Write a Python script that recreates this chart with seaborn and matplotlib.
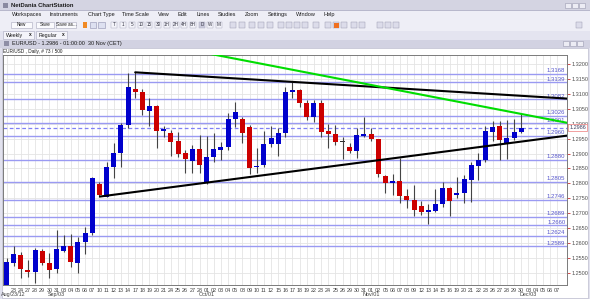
import numpy as np
import pandas as pd
import matplotlib
matplotlib.use("Agg")
import matplotlib.pyplot as plt
import matplotlib.transforms as mtrans
from matplotlib.patches import Rectangle
import seaborn as sns

# ---------------- data ----------------
day_labels = ["22", "23", "24", "27", "28", "29", "30", "31",
              "03", "04", "05", "06", "07", "10", "11", "12", "13", "14", "17", "18", "19", "20", "21",
              "24", "25", "26", "27", "28",
              "01", "02", "03", "04", "05", "08", "09", "10", "11", "12", "15", "16", "17", "18", "19",
              "22", "23", "24", "25", "26", "29", "30", "31",
              "01", "02", "05", "06", "07", "08", "09", "12", "13", "14", "15", "16", "19", "20", "21",
              "22", "23", "26", "27", "28", "29", "30",
              "03", "04", "05", "06", "07"]
month_pos = [1, 7, 28, 51, 73]
month_labels = ["Aug/23/12", "Sep/03", "Oct/01", "Nov/01", "Dec/03"]

opens = [1.2450, 1.2534, 1.2560, 1.2510, 1.2502, 1.2574, 1.2532, 1.2513, 1.2574, 1.2591,
         1.2532, 1.2603, 1.2633, 1.2798, 1.2756, 1.2854, 1.2903, 1.2996, 1.3115, 1.3107,
         1.3044, 1.3059, 1.2976, 1.2968, 1.2942, 1.2901, 1.2876, 1.2914, 1.2802, 1.2887,
         1.2912, 1.2923, 1.3015, 1.3016, 1.2990, 1.2855, 1.2862, 1.2932, 1.2932, 1.2968,
         1.3105, 1.3113, 1.3070, 1.3023, 1.3070, 1.2977, 1.2966, 1.2939, 1.2923, 1.2909,
         1.2959, 1.2965, 1.2948, 1.2825, 1.2800, 1.2808, 1.2758, 1.2744, 1.2724, 1.2705,
         1.2709, 1.2731, 1.2784, 1.2761, 1.2767, 1.2811, 1.2858, 1.2878, 1.2973, 1.2992,
         1.2936, 1.2951, 1.2973]
highs = [1.2549, 1.2591, 1.2571, 1.2543, 1.2583, 1.2580, 1.2566, 1.2644, 1.2627, 1.2629,
         1.2621, 1.2655, 1.2822, 1.2806, 1.2873, 1.2936, 1.3003, 1.3169, 1.3172, 1.3115,
         1.3087, 1.3061, 1.2992, 1.2979, 1.2973, 1.2912, 1.2929, 1.2962, 1.2960, 1.2970,
         1.2940, 1.3037, 1.3074, 1.3023, 1.2995, 1.2920, 1.2975, 1.2992, 1.2985, 1.3122,
         1.3139, 1.3116, 1.3079, 1.3079, 1.3079, 1.2999, 1.2996, 1.2956, 1.2934, 1.2985,
         1.3023, 1.2985, 1.2950, 1.2828, 1.2832, 1.2884, 1.2780, 1.2795, 1.2741, 1.2730,
         1.2780, 1.2804, 1.2787, 1.2822, 1.2828, 1.2873, 1.2901, 1.2992, 1.3009, 1.3009,
         1.3012, 1.3015, 1.3031]
lows = [1.2440, 1.2524, 1.2484, 1.2487, 1.2465, 1.2527, 1.2484, 1.2499, 1.2571, 1.2521,
        1.2499, 1.2562, 1.2627, 1.2756, 1.2755, 1.2817, 1.2856, 1.2985, 1.3085, 1.3028,
        1.2992, 1.2918, 1.2954, 1.2892, 1.2889, 1.2836, 1.2834, 1.2834, 1.2798, 1.2873,
        1.2878, 1.2912, 1.2990, 1.2936, 1.2830, 1.2834, 1.2856, 1.2923, 1.2892, 1.2954,
        1.3085, 1.3055, 1.3012, 1.3007, 1.2954, 1.2918, 1.2929, 1.2881, 1.2901, 1.2884,
        1.2954, 1.2943, 1.2822, 1.2767, 1.2761, 1.2735, 1.2717, 1.2691, 1.2694, 1.2663,
        1.2705, 1.2720, 1.2691, 1.2750, 1.2735, 1.2739, 1.2811, 1.2873, 1.2943, 1.2878,
        1.2881, 1.2945, 1.2968]
closes = [1.2536, 1.2562, 1.2513, 1.2502, 1.2577, 1.2532, 1.2510, 1.2580, 1.2591, 1.2536,
          1.2603, 1.2633, 1.2817, 1.2761, 1.2854, 1.2903, 1.2996, 1.3124, 1.3107, 1.3046,
          1.3059, 1.2976, 1.2981, 1.2940, 1.2898, 1.2881, 1.2914, 1.2862, 1.2889, 1.2914,
          1.2923, 1.3015, 1.3040, 1.2970, 1.2852, 1.2857, 1.2932, 1.2951, 1.2968, 1.3107,
          1.3113, 1.3068, 1.3023, 1.3070, 1.2973, 1.2966, 1.2938, 1.2939, 1.2909, 1.2962,
          1.2965, 1.2948, 1.2832, 1.2800, 1.2808, 1.2758, 1.2744, 1.2711, 1.2705, 1.2711,
          1.2731, 1.2784, 1.2742, 1.2769, 1.2814, 1.2862, 1.2878, 1.2976, 1.2990, 1.2945,
          1.2951, 1.2973, 1.2986]

levels = [1.3168, 1.3139, 1.3082, 1.3026, 1.3001, 1.2960, 1.2880,
          1.2805, 1.2746, 1.2689, 1.2660, 1.2624, 1.2589]
last_price = 1.2986

upper_x = [18, 78.4]
upper_y = [1.3172, 1.3084]
green_x = [28, 78.4]
green_y = [1.3236, 1.3003]
lower_x = [13.08, 78.4]
lower_y = [1.2756, 1.2960]

y_ticks = [1.2500, 1.2550, 1.2600, 1.2650, 1.2700, 1.2750, 1.2800, 1.2850,
           1.2900, 1.2950, 1.3000, 1.3050, 1.3100, 1.3150, 1.3200]

# ---------------- style ----------------
sns.set_style("white")
plt.rcParams['font.family'] = ['Liberation Sans', 'DejaVu Sans']

W, H = 590, 299
fig = plt.figure(figsize=(W / 100, H / 100), dpi=100)
fig.patch.set_facecolor('#E2E2EE')

bg = fig.add_axes([0, 0, 1, 1])
bg.set_xlim(0, W)
bg.set_ylim(H, 0)
bg.axis('off')


def rect(x, y, w, h, fc, ec='none', lw=0.5, z=1):
    bg.add_patch(Rectangle((x, y), w, h, facecolor=fc, edgecolor=ec, lw=lw, zorder=z))


def txt(x, y, s, fs=4.0, **kw):
    kw.setdefault('color', '#1a1a1a')
    bg.text(x, y, s, fontsize=fs, va='center', ha=kw.pop('ha', 'left'), zorder=5, **kw)


# title bar
rect(0, 0, W, 10.5, '#D4D4E2')
rect(0, 9.8, W, 0.8, '#B8B8CC')
rect(2.5, 3, 5, 5, '#8A8AA0')
txt(11, 5.4, "NetDania ChartStation", fs=4.2, fontweight='bold')
for xb in (565, 572, 579):
    rect(xb, 2.5, 6, 5, '#ECECF4', ec='#9A9AB0', lw=0.4, z=2)

# menu bar
rect(0, 10.6, W, 9.4, '#EEEEF6')
menu = [("Workspaces", 12), ("Instruments", 50), ("Chart Type", 87.7), ("Time Scale", 122),
        ("View", 158), ("Edit", 177.7), ("Lines", 196.7), ("Studies", 217.7), ("Zoom", 245),
        ("Settings", 267.7), ("Window", 296), ("Help", 324)]
for s, x in menu:
    txt(x, 14.7, s, fs=4.0)

# toolbar
rect(0, 20, W, 10.5, '#EEEEF6')
for s, x0, w in (("New", 11, 21), ("Save", 36, 18), ("Save as...", 56, 20)):
    rect(x0, 21.6, w, 6.6, '#FAFAFD', ec='#A8A8BC', lw=0.4, z=2)
    txt(x0 + w / 2, 25, s, fs=3.3, ha='center')
rect(83, 22, 4, 6, '#F08A24', z=2)
rect(89.5, 22, 6, 6, '#DDE0F0', ec='#9090B0', lw=0.4, z=2)
rect(98, 22, 7, 6, '#DDE0F0', ec='#9090B0', lw=0.4, z=2)
ts = ["T", "1", "5", "10", "15", "30", "1H", "2H", "4H", "8H", "D", "W", "M"]
tsx = [114, 123, 132, 141, 149, 158, 167, 176, 184, 193, 202, 210, 219]
for s, x in zip(ts, tsx):
    fc = '#C8C8DA' if s == "D" else '#F4F4FA'
    rect(x - 3.4, 21.8, 6.8, 6.4, fc, ec='#B0B0C4', lw=0.35, z=2)
    txt(x, 25, s, fs=3.3, ha='center', color='#303040')
for x in (230, 239, 249, 258, 267, 278, 286, 294, 302, 313, 325, 333, 341, 351, 359, 377, 385, 393, 576):
    rect(x, 22, 6, 6, '#DCDCEA', ec='#9C9CB4', lw=0.35, z=2)
rect(334, 22.5, 5, 5, '#F07020', z=3)

# tabs row
rect(0, 30.5, W, 9, '#E4E4F0')
for s, x0, w in (("Weekly", 3, 31), ("Regular", 36, 31)):
    rect(x0, 31, w, 8, '#F4F4FA', ec='#A8A8BE', lw=0.4, z=2)
    txt(x0 + 3, 35, s, fs=3.8)
    txt(x0 + w - 5, 35, "x", fs=3.5, fontweight='bold')

# inner window title bar
rect(0, 39.5, W, 8.3, '#D2D2E2')
rect(3.5, 41.3, 5, 5, '#8E8EA6', z=2)
txt(12.5, 43.7, "EUR/USD - 1.2986 - 01:00:00  30 Nov (CET)", fs=4.0)
for xb in (563, 570, 577):
    rect(xb, 41, 6, 5, '#ECECF4', ec='#9A9AB0', lw=0.4, z=2)

# chart panel
rect(2, 47.8, 585.5, 250, 'white', ec='#B0B0C4', lw=0.4)
txt(3, 51.4, "EUR/USD , Daily, # 73 / 500", fs=3.4)

# ---------------- chart ----------------
ax = fig.add_axes([3 / W, (H - 285) / H, (567 - 3) / W, (285 - 55) / H])
ax.set_facecolor('white')

n = len(opens)
df = pd.DataFrame({"idx": np.arange(n), "open": opens, "high": highs, "low": lows, "close": closes})
df["bottom"] = df[["open", "close"]].min(axis=1)
df["height"] = (df["close"] - df["open"]).abs().clip(lower=0.00025)
df["color"] = np.where(df["close"] > df["open"], '#0000CC',
                       np.where(df["close"] < df["open"], '#CC0000', '#303030'))

# horizontal levels
for lv in levels:
    ax.axhline(lv, color='#9A9AF2', lw=1.0, zorder=2)
    ax.annotate(f"{lv:.4f}", xy=(0.997, lv), xycoords=('axes fraction', 'data'),
                xytext=(0, 0.4), textcoords='offset points', ha='right', va='bottom',
                fontsize=4.3, color='#5656CC', zorder=3)
ax.axhline(last_price, color='#8080F6', lw=0.9, ls=(0, (3, 2)), zorder=2)

# candles
ax.vlines(df["idx"], df["low"], df["high"], color='#444444', lw=0.8, zorder=4)
ax.bar(df["idx"], df["height"], bottom=df["bottom"], width=0.7, color=df["color"],
       edgecolor='none', zorder=5)

# trend lines
trend = pd.DataFrame({"x": upper_x + green_x + lower_x,
                      "y": upper_y + green_y + lower_y,
                      "line": ["up"] * 2 + ["green"] * 2 + ["low"] * 2})
sns.lineplot(data=trend, x="x", y="y", hue="line", estimator=None, sort=False,
             palette={"up": "black", "green": "#00DD00", "low": "black"},
             linewidth=1.5, legend=False, ax=ax, zorder=6)

ax.set_xlim(-0.49, 78.4)
ax.set_ylim(1.24597, 1.3230)
ax.set_xlabel("")
ax.set_ylabel("")

# grid & ticks
ax.set_xticks(np.arange(len(day_labels)))
ax.set_xticklabels([""] + day_labels[1:])
ax.set_yticks(y_ticks)
ax.set_yticklabels([f"{v:.4f}" for v in y_ticks])
ax.yaxis.tick_right()
ax.grid(True, color='#E4E4E4', lw=0.6, zorder=0)
ax.set_axisbelow(True)
ax.tick_params(axis='x', length=1.5, width=0.5, color='#D03030', pad=0.6,
               labelsize=3.9, labelcolor='#404040')
ax.tick_params(axis='y', length=2.2, width=0.6, color='#D03030', pad=0.8,
               labelsize=4.0, labelcolor='#505050', right=True, left=False)
for sp in ax.spines.values():
    sp.set_color('#7A7A7A')
    sp.set_linewidth(0.7)

blend = mtrans.blended_transform_factory(ax.transData, ax.transAxes)
for p, s in zip(month_pos, month_labels):
    ax.text(p, -0.042, s, transform=blend, ha='center', va='center',
            fontsize=3.9, color='#404040', clip_on=False)

blend_y = mtrans.blended_transform_factory(ax.transAxes, ax.transData)
ax.text(1.004, last_price, f"{last_price:.4f}", transform=blend_y, ha='left', va='center',
        fontsize=4.0, color='#404060', zorder=10, clip_on=False,
        bbox=dict(boxstyle='square,pad=0.2', fc='white', ec='#F09090', lw=0.6))

fig.savefig("out.png", dpi=100)
